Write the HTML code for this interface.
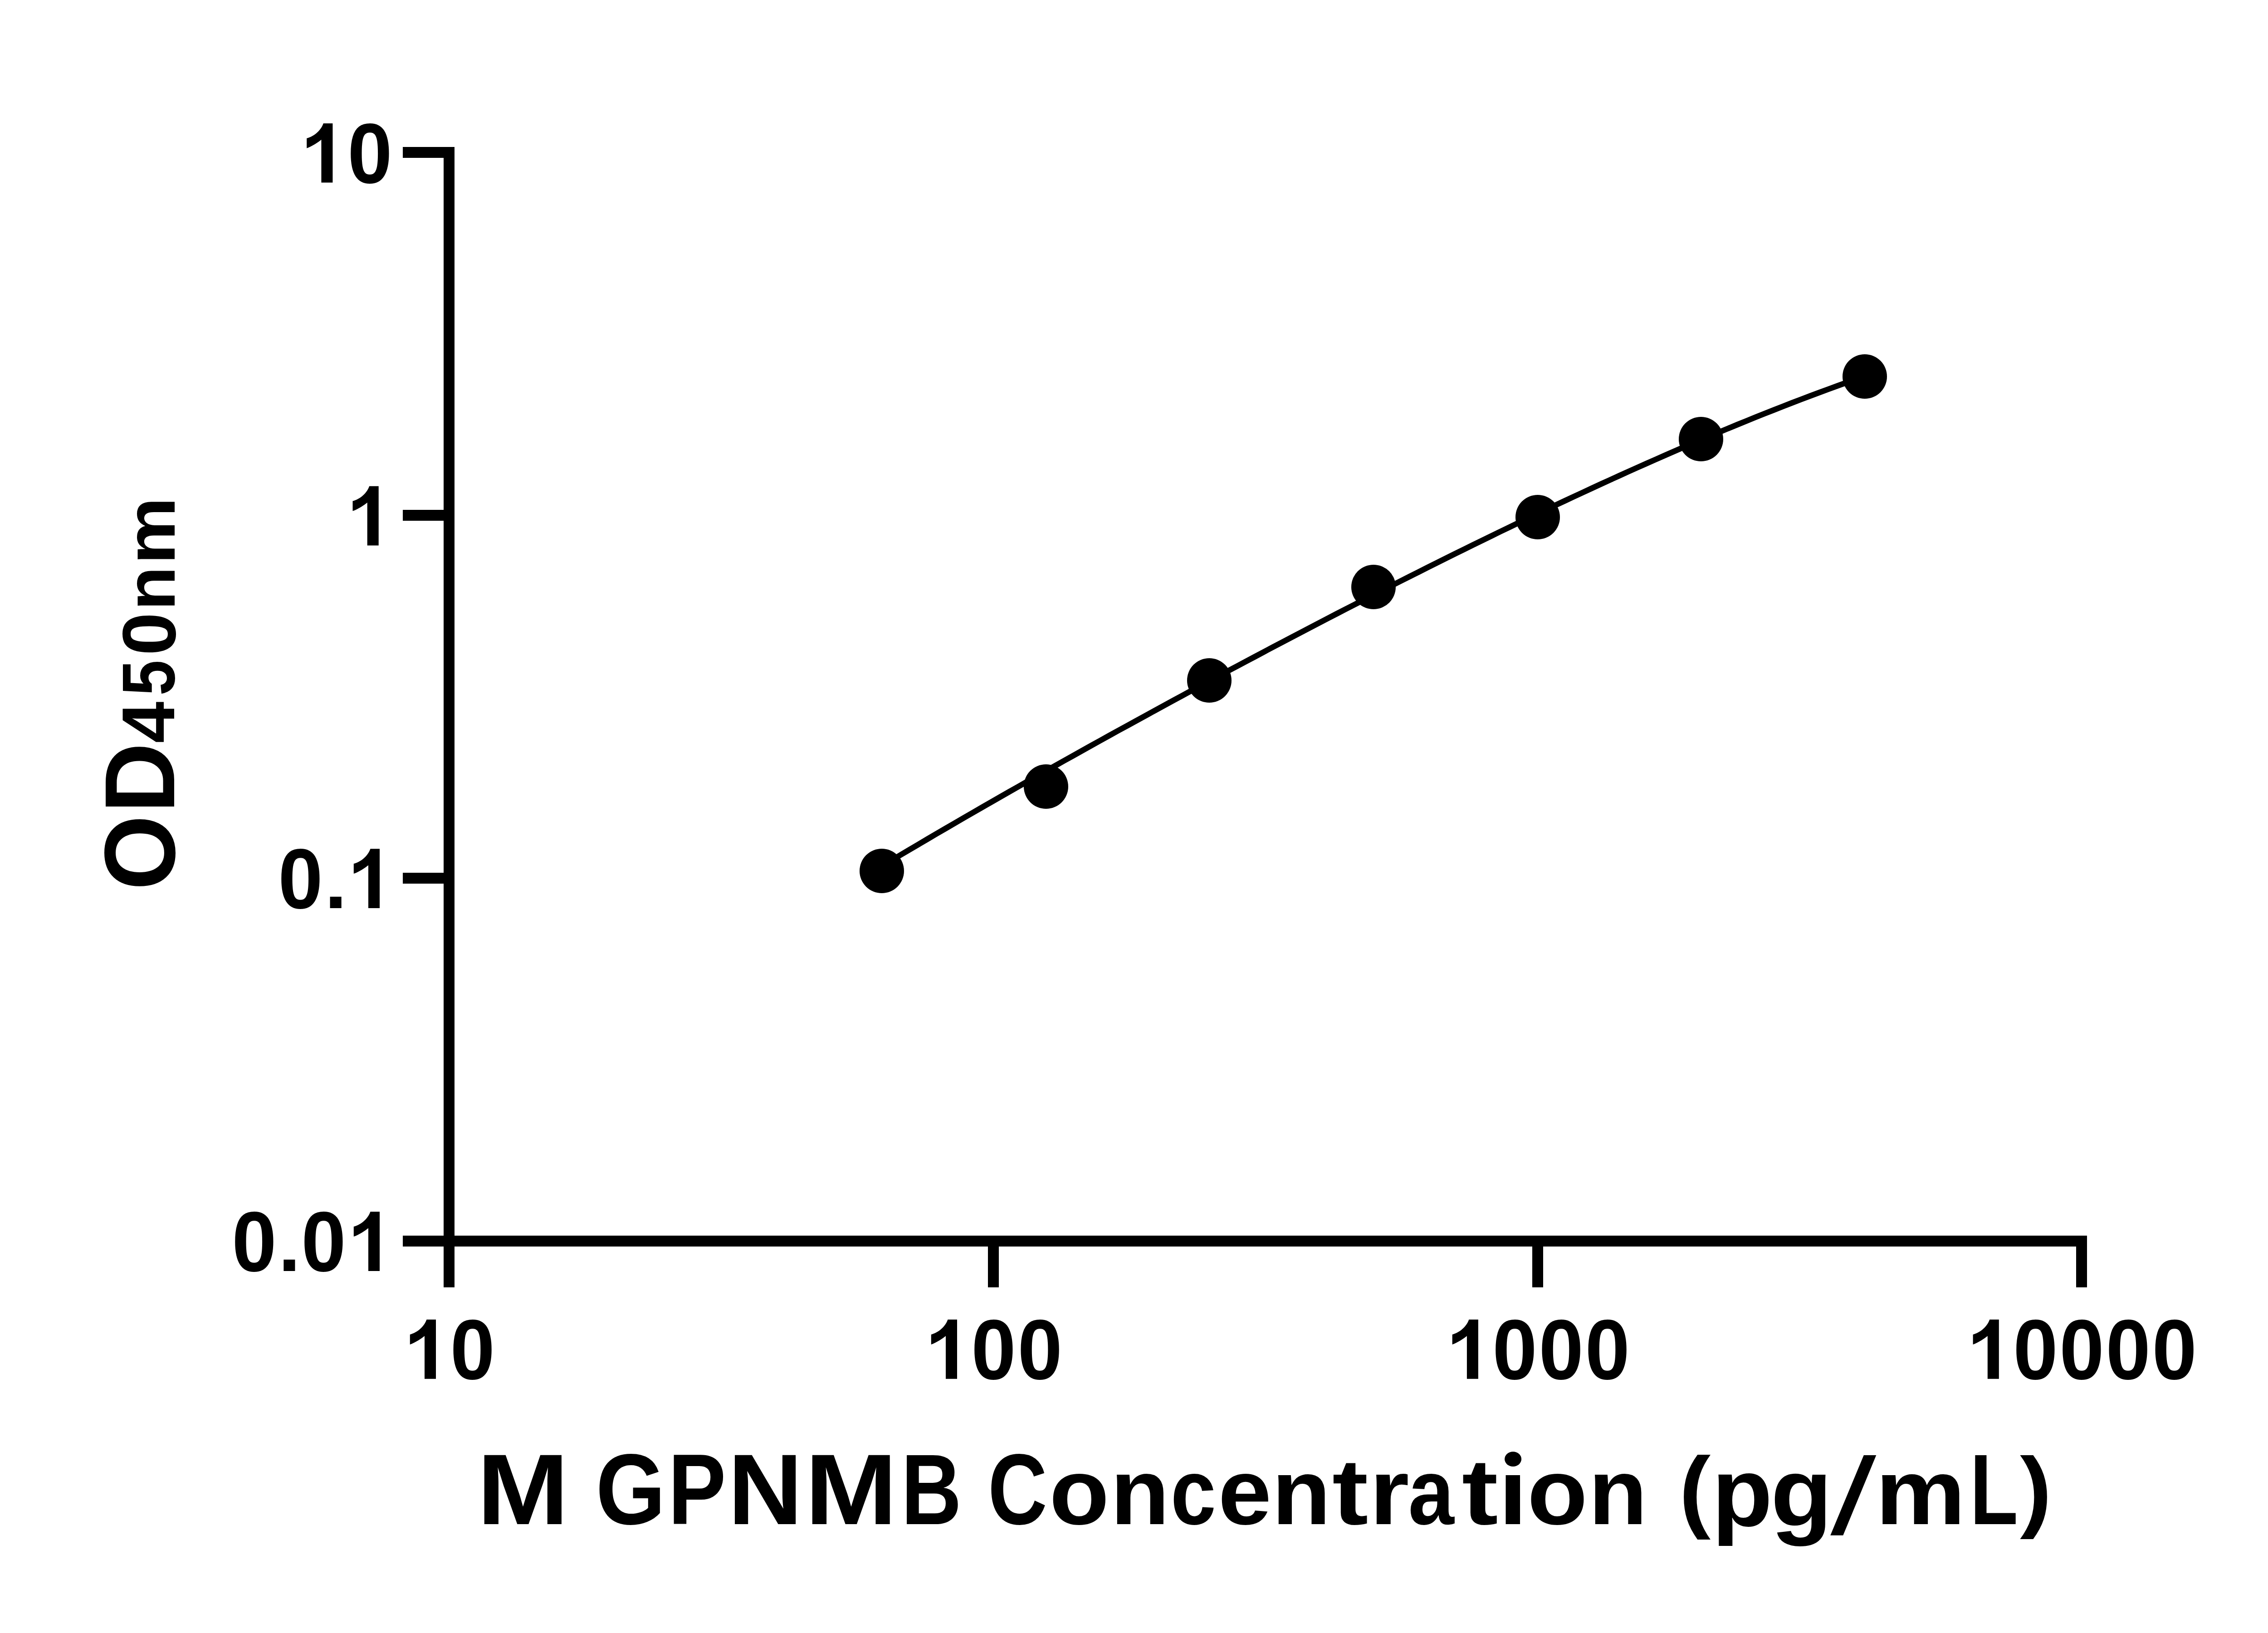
<!DOCTYPE html>
<html><head><meta charset="utf-8"><title>M GPNMB Standard Curve</title>
<style>
html,body{margin:0;padding:0;background:#fff;width:5142px;height:3600px;overflow:hidden}
svg{display:block}
text{font-family:"Liberation Sans",sans-serif;font-weight:bold;fill:#000}
</style></head>
<body>
<svg width="5142" height="3600" viewBox="0 0 5142 3600">
<rect width="5142" height="3600" fill="#fff"/>
<g fill="#000">
<rect x="978" y="324" width="24" height="2514"/>
<rect x="888" y="2724" width="3713" height="24"/>
<rect x="888" y="324" width="114" height="24"/>
<rect x="888" y="1124" width="114" height="24"/>
<rect x="888" y="1924" width="114" height="24"/>
<rect x="2178" y="2724" width="24" height="114"/>
<rect x="3378" y="2724" width="24" height="114"/>
<rect x="4577" y="2724" width="24" height="114"/>
<polyline points="1944.0,1909.5 1964.1,1897.5 1984.1,1885.5 2004.2,1873.7 2024.3,1861.8 2044.3,1850.0 2064.4,1838.2 2084.5,1826.5 2104.5,1814.8 2124.6,1803.2 2144.6,1791.6 2164.7,1780.0 2184.8,1768.5 2204.8,1757.0 2224.9,1745.5 2245.0,1734.1 2265.0,1722.7 2285.1,1711.3 2305.2,1700.0 2325.2,1688.7 2345.3,1677.4 2365.4,1666.2 2385.4,1655.0 2405.5,1643.8 2425.6,1632.6 2445.6,1621.5 2465.7,1610.4 2485.8,1599.4 2505.8,1588.4 2525.9,1577.4 2545.9,1566.4 2566.0,1555.5 2586.1,1544.5 2606.1,1533.7 2626.2,1522.8 2646.3,1512.0 2666.3,1501.2 2686.4,1490.4 2706.5,1479.6 2726.5,1468.9 2746.6,1458.2 2766.7,1447.6 2786.7,1436.9 2806.8,1426.3 2826.9,1415.8 2846.9,1405.2 2867.0,1394.7 2887.0,1384.2 2907.1,1373.7 2927.2,1363.3 2947.2,1352.9 2967.3,1342.5 2987.4,1332.2 3007.4,1321.9 3027.5,1311.6 3047.6,1301.4 3067.6,1291.2 3087.7,1281.0 3107.8,1270.9 3127.8,1260.8 3147.9,1250.7 3168.0,1240.7 3188.0,1230.7 3208.1,1220.7 3228.1,1210.8 3248.2,1200.9 3268.3,1191.1 3288.3,1181.3 3308.4,1171.5 3328.5,1161.8 3348.5,1152.1 3368.6,1142.5 3388.7,1132.9 3408.7,1123.4 3428.8,1113.9 3448.9,1104.5 3468.9,1095.1 3489.0,1085.8 3509.1,1076.5 3529.1,1067.3 3549.2,1058.1 3569.2,1049.0 3589.3,1039.9 3609.4,1030.9 3629.4,1022.0 3649.5,1013.1 3669.6,1004.3 3689.6,995.5 3709.7,986.8 3729.8,978.2 3749.8,969.6 3769.9,961.2 3790.0,952.7 3810.0,944.4 3830.1,936.1 3850.2,928.0 3870.2,919.8 3890.3,911.8 3910.4,903.9 3930.4,896.0 3950.5,888.2 3970.5,880.5 3990.6,872.9 4010.7,865.4 4030.7,858.0 4050.8,850.7 4070.9,843.4 4090.9,836.3 4111.0,829.3" fill="none" stroke="#000" stroke-width="12.5" stroke-linejoin="round" stroke-linecap="butt"/>
<circle cx="1944" cy="1920" r="49"/>
<circle cx="2306" cy="1734" r="49"/>
<circle cx="2666" cy="1500" r="49"/>
<circle cx="3028" cy="1294" r="49"/>
<circle cx="3390" cy="1140" r="49"/>
<circle cx="3750" cy="968" r="49"/>
<circle cx="4111" cy="830" r="49"/>
<path transform="translate(676.2,402.6)" d="M57.2 0H32.2V-94.5C26 -89.5 12 -80 0 -75.8V-97.8C13 -101 30 -112 36.7 -130.7H57.2Z"/>
<text font-size="100" transform="matrix(1.7704,0,0,1.8729,766.30,402.67)">0</text>
<path transform="translate(777.5,1202.4)" d="M57.2 0H32.2V-94.5C26 -89.5 12 -80 0 -75.8V-97.8C13 -101 30 -112 36.7 -130.7H57.2Z"/>
<text font-size="100" transform="matrix(1.7704,0,0,1.8729,613.30,2001.97)">0</text>
<text font-size="100" transform="matrix(1.7787,0,0,1.6854,715.43,2001.90)">.</text>
<path transform="translate(779.8,2001.9)" d="M57.2 0H32.2V-94.5C26 -89.5 12 -80 0 -75.8V-97.8C13 -101 30 -112 36.7 -130.7H57.2Z"/>
<text font-size="100" transform="matrix(1.7704,0,0,1.8729,511.20,2801.97)">0</text>
<text font-size="100" transform="matrix(1.7787,0,0,1.6854,613.33,2801.90)">.</text>
<text font-size="100" transform="matrix(1.7704,0,0,1.8729,664.20,2801.97)">0</text>
<path transform="translate(779.8,2801.9)" d="M57.2 0H32.2V-94.5C26 -89.5 12 -80 0 -75.8V-97.8C13 -101 30 -112 36.7 -130.7H57.2Z"/>
<path transform="translate(903.8,3039.8)" d="M57.2 0H32.2V-94.5C26 -89.5 12 -80 0 -75.8V-97.8C13 -101 30 -112 36.7 -130.7H57.2Z"/>
<text font-size="100" transform="matrix(1.7704,0,0,1.8729,992.40,3039.87)">0</text>
<path transform="translate(2052.8,3039.8)" d="M57.2 0H32.2V-94.5C26 -89.5 12 -80 0 -75.8V-97.8C13 -101 30 -112 36.7 -130.7H57.2Z"/>
<text font-size="100" transform="matrix(1.7704,0,0,1.8729,2141.35,3039.87)">0</text>
<text font-size="100" transform="matrix(1.7704,0,0,1.8729,2243.45,3039.87)">0</text>
<path transform="translate(3201.7,3039.8)" d="M57.2 0H32.2V-94.5C26 -89.5 12 -80 0 -75.8V-97.8C13 -101 30 -112 36.7 -130.7H57.2Z"/>
<text font-size="100" transform="matrix(1.7704,0,0,1.8729,3290.30,3039.87)">0</text>
<text font-size="100" transform="matrix(1.7704,0,0,1.8729,3392.40,3039.87)">0</text>
<text font-size="100" transform="matrix(1.7704,0,0,1.8729,3494.50,3039.87)">0</text>
<path transform="translate(4349.6,3039.8)" d="M57.2 0H32.2V-94.5C26 -89.5 12 -80 0 -75.8V-97.8C13 -101 30 -112 36.7 -130.7H57.2Z"/>
<text font-size="100" transform="matrix(1.7704,0,0,1.8729,4438.25,3039.87)">0</text>
<text font-size="100" transform="matrix(1.7704,0,0,1.8729,4540.35,3039.87)">0</text>
<text font-size="100" transform="matrix(1.7704,0,0,1.8729,4642.45,3039.87)">0</text>
<text font-size="100" transform="matrix(1.7704,0,0,1.8729,4744.55,3039.87)">0</text>
<text font-size="100" transform="matrix(2.4327,0,0,2.2021,1051.43,3359.50)">M</text>
<text font-size="100" transform="matrix(1.9754,0,0,2.2090,1313.60,3359.84)">G</text>
<text font-size="100" transform="matrix(1.9172,0,0,2.2021,1472.67,3359.50)">P</text>
<text font-size="100" transform="matrix(2.2810,0,0,2.2021,1604.64,3359.50)">N</text>
<text font-size="100" transform="matrix(2.4427,0,0,2.2021,1774.56,3359.50)">M</text>
<text font-size="100" transform="matrix(1.8447,0,0,2.2021,1986.66,3359.50)">B</text>
<text font-size="100" transform="matrix(1.8109,0,0,2.2090,2177.97,3359.84)">C</text>
<text font-size="100" transform="matrix(2.1644,0,0,2.0626,2313.15,3359.99)">o</text>
<text font-size="100" transform="matrix(2.1288,0,0,2.0517,2447.97,3359.50)">n</text>
<text font-size="100" transform="matrix(1.7999,0,0,2.0626,2580.77,3359.99)">c</text>
<text font-size="100" transform="matrix(2.1143,0,0,2.0626,2685.44,3359.99)">e</text>
<text font-size="100" transform="matrix(2.1225,0,0,2.0517,2804.11,3359.50)">n</text>
<text font-size="100" transform="matrix(2.3850,0,0,2.0556,2937.09,3360.19)">t</text>
<text font-size="100" transform="matrix(2.2460,0,0,2.0517,3019.19,3359.50)">r</text>
<text font-size="100" transform="matrix(1.8211,0,0,2.0626,3104.46,3359.99)">a</text>
<text font-size="100" transform="matrix(2.4012,0,0,2.0556,3222.67,3360.19)">t</text>
<clipPath id="ci"><rect x="3300" y="3245" width="80" height="130"/></clipPath>
<g clip-path="url(#ci)"><text font-size="100" transform="matrix(2.2958,0,0,2.0423,3303.47,3359.50)">i</text></g>
<ellipse cx="3335.6" cy="3216.6" rx="18.5" ry="16.3"/>
<text font-size="100" transform="matrix(2.1756,0,0,2.0626,3366.90,3359.99)">o</text>
<text font-size="100" transform="matrix(2.1205,0,0,2.0517,3502.12,3359.50)">n</text>
<text font-size="100" transform="matrix(2.0834,0,0,1.9954,3701.72,3352.49)">(</text>
<text font-size="100" transform="matrix(2.1869,0,0,2.1377,3773.88,3364.34)">p</text>
<text font-size="100" transform="matrix(2.2190,0,0,2.1426,3903.70,3364.40)">g</text>
<text font-size="100" transform="matrix(2.360,0,-0.5394,2.3757,4033.88,3380.04)">/</text>
<text font-size="100" transform="matrix(2.2306,0,0,2.0517,4134.70,3359.50)">m</text>
<text font-size="100" transform="matrix(1.7401,0,0,2.2021,4342.66,3359.50)">L</text>
<text font-size="100" transform="matrix(2.1047,0,0,1.9954,4453.19,3352.49)">)</text>
<g transform="rotate(-90)">
<text font-size="100" transform="matrix(2.1257,0,0,2.2062,-1962.42,385.35)">O</text>
<text font-size="100" transform="matrix(2.1507,0,0,2.1919,-1792.59,384.20)">D</text>
<text font-size="100" transform="matrix(1.6485,0,0,1.6454,-1638.30,384.20)">4</text>
<text font-size="100" transform="matrix(1.4109,0,0,1.6453,-1533.54,384.29)">5</text>
<text font-size="100" transform="matrix(1.7074,0,0,1.6779,-1444.95,385.86)">0</text>
<text font-size="100" transform="matrix(1.5883,0,0,1.5411,-1345.67,384.50)">n</text>
<text font-size="100" transform="matrix(1.6657,0,0,1.5411,-1244.08,384.50)">m</text>
</g>
</g>
</svg>
</body></html>
